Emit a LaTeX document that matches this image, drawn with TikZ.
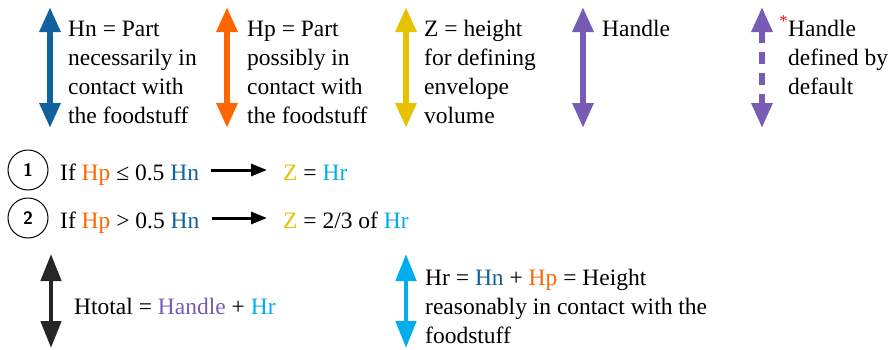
\documentclass[tikz,border=0pt]{standalone}
\usepackage{fontspec}
\setmainfont{Liberation Serif}
\usetikzlibrary{arrows.meta,positioning}
\definecolor{hnblue}{RGB}{16,98,158}
\definecolor{hporange}{RGB}{255,102,0}
\definecolor{zyellow}{RGB}{230,194,0}
\definecolor{handlepurple}{RGB}{119,92,181}
\definecolor{hrcyan}{RGB}{0,174,239}
\newcommand{\Hn}{\textcolor{hnblue}{Hn}}
\newcommand{\Hp}{\textcolor{hporange}{Hp}}
\newcommand{\Hr}{\textcolor{hrcyan}{Hr}}
\newcommand{\Zh}{\textcolor{zyellow}{Z}}
\begin{document}
\begin{tikzpicture}[x=1pt,y=-1pt,
  dimarrow/.style={line width=6pt,{Triangle[width=20pt,length=25pt]}-{Triangle[width=20pt,length=25pt]}},
  thinarrow/.style={line width=4.5pt,{Triangle[width=20pt,length=27pt]}-{Triangle[width=20pt,length=27pt]}},
  legend/.style={anchor=base west,align=left,inner sep=0pt,font=\fontsize{23.5}{29}\selectfont},
  numcircle/.style={draw,circle,line width=1pt,minimum size=40pt,inner sep=0pt,font=\sffamily\bfseries\fontsize{18}{18}\selectfont},
  condarrow/.style={line width=3pt,-{Triangle[width=12pt,length=16pt]}}]
\useasboundingbox (0,0) rectangle (895,349);

% legend of the heights (multi-line nodes sit on their last baseline)
\coordinate (hnTop) at (50,7);   \coordinate (hnBot) at (50,128);
\coordinate (hpTop) at (227,7);  \coordinate (hpBot) at (227,128);
\coordinate (zTop) at (406,7);   \coordinate (zBot) at (406,128);
\coordinate (haTop) at (583,7);  \coordinate (haBot) at (583,128);
\coordinate (hdTop) at (762,7);  \coordinate (hdBot) at (762,128);
\draw [dimarrow, hnblue] (hnTop) -- (hnBot);
\draw [dimarrow, hporange] (hpTop) -- (hpBot);
\draw [dimarrow, zyellow] (zTop) -- (zBot);
\draw [dimarrow, handlepurple] (haTop) -- (haBot);
\draw [dimarrow, handlepurple, dash pattern=on 12pt off 9pt] (hdTop) -- (hdBot);
\node[legend] (hnText) at (68,123) {Hn = Part\\necessarily in\\contact with\\the foodstuff};
\node[legend] (hpText) at (247,123) {Hp = Part\\possibly in\\contact with\\the foodstuff};
\node[legend] (zText) at (424,123) {Z = height\\for defining\\envelope\\volume};
\node[legend] (haText) at (602,36) {Handle};
\node[legend] (hdText) at (788,94) {\llap{\textcolor{red}{\textsuperscript{*}}}Handle\\defined by\\default};

% the two cases
\node[numcircle] (num1) at (28,170) {1};
\node[numcircle] (num2) at (28,218) {2};
\node[legend] (cond1) at (60,180) {If \Hp{} ≤ 0.5 \Hn};
\node[legend] (cond2) at (60,228) {If \Hp{} > 0.5 \Hn};
\node[legend] (res1) at (283,180) {\Zh{} = \Hr};
\node[legend] (res2) at (283,228) {\Zh{} = 2/3 of \Hr};
\draw [condarrow] ([xshift=12pt]cond1.east |- num1.center) -- ([xshift=-16pt]res1.west |- num1.center);
\draw [condarrow] ([xshift=12pt]cond2.east |- num2.center) -- ([xshift=-16pt]res2.west |- num2.center);

% total height and Hr
\coordinate (htTop) at (51,254);  \coordinate (htBot) at (51,348);
\coordinate (hrTop) at (406,254); \coordinate (hrBot) at (406,348);
\draw [thinarrow, black!85] (htTop) -- (htBot);
\draw [thinarrow, hrcyan] (hrTop) -- (hrBot);
\node[legend] (htText) at (74,314) {Htotal = \textcolor{handlepurple}{Handle} + \Hr};
\node[legend] (hrText) at (425,343) {Hr = \Hn{} + \Hp{} = Height\\reasonably in contact with the\\foodstuff};
\end{tikzpicture}
\end{document}
